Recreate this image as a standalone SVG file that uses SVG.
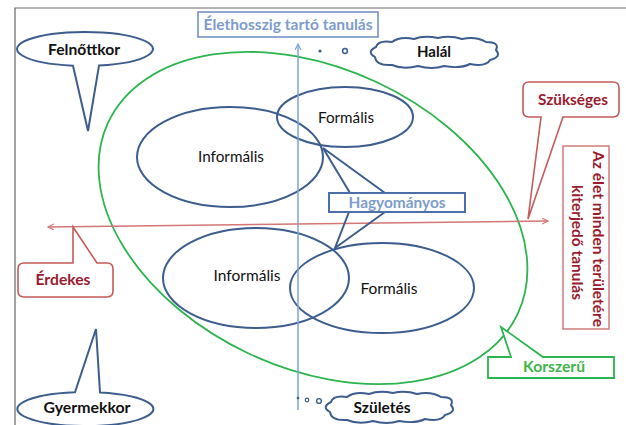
<svg xmlns="http://www.w3.org/2000/svg" width="626" height="425" viewBox="0 0 626 425">
  <style>
    text { font-family: Lato, "Liberation Sans", sans-serif; text-anchor: middle; }
    .b { font-weight: bold; font-size: 15px; }
    .r { font-size: 15px; fill: #111; }
    .blk { fill: #111; }
    .red { fill: #9a1a2e; }
    .blt { fill: #7d9ccc; }
    .grt { fill: #3fb54c; }
    .ell { fill: none; stroke: #3d5d8e; stroke-width: 2; }
    .bub { fill: #fff; stroke: #3d5d8e; stroke-width: 2; }
    .rc { fill: #fff; stroke: #c55a5a; stroke-width: 1.6; }
    .gc { fill: #fff; stroke: #2cb44e; stroke-width: 1.8; }
    .link { stroke: #3d5d8e; stroke-width: 2; fill: none; }
  </style>
  <defs>
    <marker id="arrow" markerWidth="8" markerHeight="8" refX="6" refY="3" orient="auto-start-reverse" markerUnits="userSpaceOnUse">
      <path d="M0,0 L6,3 L0,6" fill="none" stroke="context-stroke" stroke-width="1.2"/>
    </marker>
    <path id="cloud" class="bub" d="M-59,5 Q-68,0 -58,-5 Q-56,-12 -42,-10 Q-34,-16 -20,-13 Q-10,-17 4,-14 Q16,-17 28,-13 Q42,-16 52,-10 Q66,-10 62,-2 Q68,5 56,8 Q52,15 36,12 Q26,17 10,14 Q-2,18 -16,14 Q-30,18 -42,13 Q-58,14 -59,5 Z"/>
  </defs>

  <!-- page frame -->
  <g id="frame" stroke="#666" stroke-width="1.2" fill="none">
    <path d="M15,425 V8 H626"/>
  </g>

  <!-- modern learning scope -->
  <g id="korszeru-ellipse">
    <ellipse cx="313" cy="218" rx="226" ry="150" transform="rotate(25 313 218)" fill="none" stroke="#2cb44e" stroke-width="1.8"/>
  </g>

  <g id="informalis-top">
    <ellipse class="ell" cx="230" cy="157" rx="93" ry="50"/>
    <text class="r" x="231" y="162" textLength="66" lengthAdjust="spacingAndGlyphs">Informális</text>
  </g>
  <g id="formalis-top">
    <ellipse class="ell" cx="345" cy="117" rx="68" ry="30"/>
    <text class="r" x="346" y="123" textLength="56" lengthAdjust="spacingAndGlyphs">Formális</text>
  </g>
  <g id="informalis-bottom">
    <ellipse class="ell" cx="256" cy="278" rx="93" ry="50"/>
    <text class="r" x="247" y="281" textLength="67" lengthAdjust="spacingAndGlyphs">Informális</text>
  </g>
  <g id="formalis-bottom">
    <ellipse class="ell" cx="382" cy="288" rx="92" ry="45"/>
    <text class="r" x="389" y="294" textLength="57" lengthAdjust="spacingAndGlyphs">Formális</text>
  </g>

  <!-- axes and links -->
  <g id="connectors">
    <line x1="298" y1="410" x2="298" y2="44" stroke="#7ea3d8" stroke-width="1.5" marker-end="url(#arrow)"/>
    <line x1="48" y1="227" x2="548" y2="221" stroke="#d27676" stroke-width="1.4" marker-start="url(#arrow)" marker-end="url(#arrow)"/>
    <path class="link" d="M350,193 L323,148 L385,193"/>
    <path class="link" d="M349,212 L335,248 L385,212"/>
  </g>

  <g id="elethosszig">
    <rect x="198" y="12" width="180" height="25" fill="#fff" stroke="#6a8cc0" stroke-width="1.5"/>
    <text class="b blt" x="288" y="30" textLength="169" lengthAdjust="spacingAndGlyphs">Élethosszig tartó tanulás</text>
  </g>

  <g id="hagyomanyos">
    <rect x="329" y="193" width="136" height="19" fill="#fff" stroke="#4a6ea5" stroke-width="2"/>
    <text class="b blt" x="397" y="208" textLength="97" lengthAdjust="spacingAndGlyphs">Hagyományos</text>
  </g>

  <g id="felnottkor">
    <path class="bub" d="M73,65.7 L88,131 L99,65.6 A68,17 0 1 0 73,65.7 Z"/>
    <text class="b blk" x="84" y="55" textLength="72" lengthAdjust="spacingAndGlyphs">Felnőttkor</text>
  </g>

  <g id="gyermekkor">
    <path class="bub" d="M75,392.2 L96,329 L100,392.4 A68,17 0 1 1 75,392.2 Z"/>
    <text class="b blk" x="87" y="413" textLength="87" lengthAdjust="spacingAndGlyphs">Gyermekkor</text>
  </g>

  <g id="halal">
    <circle cx="320" cy="51" r="1.6" fill="#3d5d8e"/>
    <circle cx="345" cy="51" r="2.4" fill="#fff" stroke="#3d5d8e" stroke-width="1.5"/>
    <use href="#cloud" transform="translate(434 52)"/>
    <text class="b blk" x="434" y="57" textLength="34" lengthAdjust="spacingAndGlyphs">Halál</text>
  </g>

  <g id="szuletes">
    <circle cx="298" cy="398" r="1.3" fill="#3d5d8e"/>
    <circle cx="307" cy="400" r="1.8" fill="#fff" stroke="#3d5d8e" stroke-width="1.2"/>
    <circle cx="319" cy="401" r="2.4" fill="#fff" stroke="#3d5d8e" stroke-width="1.4"/>
    <use href="#cloud" transform="translate(389 407)"/>
    <text class="b blk" x="382" y="413" textLength="57" lengthAdjust="spacingAndGlyphs">Születés</text>
  </g>

  <g id="szukseges">
    <path class="rc" d="M529,82 H613 Q619,82 619,88 V111 Q619,117 613,117 H563 L528,219 L541,117 H529 Q523,117 523,111 V88 Q523,82 529,82 Z"/>
    <text class="b red" x="573" y="105" textLength="70" lengthAdjust="spacingAndGlyphs">Szükséges</text>
  </g>

  <g id="erdekes">
    <path class="rc" d="M24,263 H73 L73,227 L97,263 H107 Q113,263 113,269 V291 Q113,297 107,297 H24 Q18,297 18,291 V269 Q18,263 24,263 Z"/>
    <text class="b red" x="63" y="285" textLength="55" lengthAdjust="spacingAndGlyphs">Érdekes</text>
  </g>

  <g id="korszeru">
    <path class="gc" d="M488,357 H511 L501,327 L543,357 H614 V378 H488 Z"/>
    <text class="b grt" x="554" y="372" textLength="62" lengthAdjust="spacingAndGlyphs">Korszerű</text>
  </g>

  <g id="minden-teruletre">
    <rect x="563" y="146" width="46" height="183" fill="#fff" stroke="#d27c7c" stroke-width="1.5"/>
    <text class="b red" transform="translate(593 239) rotate(90)" textLength="176" lengthAdjust="spacingAndGlyphs">Az élet minden területére</text>
    <text class="b red" transform="translate(572 242.5) rotate(90)" textLength="115" lengthAdjust="spacingAndGlyphs">kiterjedő tanulás</text>
  </g>
</svg>
